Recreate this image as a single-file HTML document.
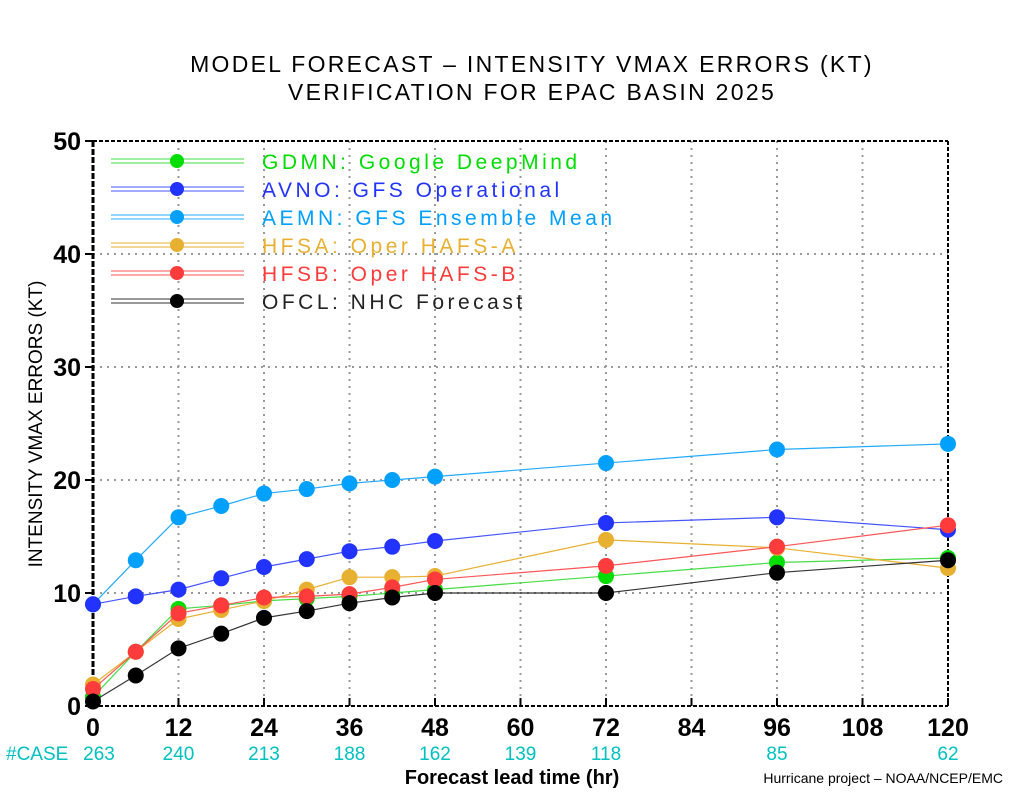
<!DOCTYPE html>
<html><head><meta charset="utf-8"><style>
html,body{margin:0;padding:0;background:#fff;}
svg{display:block;font-family:"Liberation Sans",sans-serif;}
</style></head><body>
<svg id="chart" width="1024" height="800" viewBox="0 0 1024 800">
<text x="532" y="72" text-anchor="middle" font-size="23" letter-spacing="2.3">MODEL FORECAST – INTENSITY VMAX ERRORS (KT)</text>
<text x="532" y="100" text-anchor="middle" font-size="23" letter-spacing="2.3">VERIFICATION FOR EPAC BASIN 2025</text>
<g id="grid"></g>
<g id="axes"></g>
<g id="series"></g>
<g id="legend"></g>
<text x="42" y="424" transform="rotate(-90 42 424)" text-anchor="middle" font-size="19">INTENSITY VMAX ERRORS (KT)</text>
<text x="512" y="784" text-anchor="middle" font-size="20" font-weight="bold" font-family="Liberation Sans Narrow, Liberation Sans, sans-serif">Forecast lead time (hr)</text>
<text x="1003" y="783" text-anchor="end" font-size="14" font-family="Liberation Sans Narrow, Liberation Sans, sans-serif">Hurricane project – NOAA/NCEP/EMC</text>
<text x="6" y="760" font-size="19" fill="#00c0c0" font-family="Liberation Sans Narrow, Liberation Sans, sans-serif">#CASE</text>
</svg>
<script>
const hours=[0,6,12,18,24,30,36,42,48,72,96,120];
const xTicks=[0,12,24,36,48,60,72,84,96,108,120];
const yTicks=[0,10,20,30,40,50];
const caseHours=[0,12,24,36,48,60,72,96,120];
const caseCounts=[263,240,213,188,162,139,118,85,62];
const gdmn=[0.8,4.8,8.6,8.9,9.3,9.5,9.7,10.0,10.3,11.5,12.7,13.1];
const avno=[9.0,9.7,10.3,11.3,12.3,13.0,13.7,14.1,14.6,16.2,16.7,15.6];
const aemn=[9.0,12.9,16.7,17.7,18.8,19.2,19.7,20.0,20.3,21.5,22.7,23.2];
const hfsa=[1.9,4.8,7.7,8.5,9.3,10.3,11.4,11.4,11.5,14.7,14.0,12.2];
const hfsb=[1.5,4.8,8.2,8.9,9.6,9.7,9.9,10.5,11.2,12.4,14.1,16.0];
const ofcl=[0.4,2.7,5.1,6.4,7.8,8.4,9.1,9.6,10.0,10.0,11.8,12.9];
const seriesNames=["GDMN: Google DeepMind","AVNO: GFS Operational","AEMN: GFS Ensemble Mean","HFSA: Oper HAFS-A","HFSB: Oper HAFS-B","OFCL: NHC Forecast"];
const seriesIds=["gdmn","avno","aemn","hfsa","hfsb","ofcl"];
(function(){
const NS="http://www.w3.org/2000/svg";
const X0=93,X1=948,Y0=706,Y1=141;
const xs=h=>X0+(X1-X0)*h/120;
const ys=v=>Y0-(Y0-Y1)*v/50;
function mk(tag,attrs,parent,text){const e=document.createElementNS(NS,tag);for(const k in attrs)e.setAttribute(k,attrs[k]);if(text!==undefined)e.textContent=text;parent.appendChild(e);return e;}
const grid=document.getElementById('grid'),axes=document.getElementById('axes'),ser=document.getElementById('series'),leg=document.getElementById('legend');
xTicks.forEach(t=>{if(t>0&&t<120){const l=mk('line',{x1:xs(t),x2:xs(t),y1:Y1,y2:Y0,stroke:'#999','stroke-width':2,'stroke-dasharray':'2,5'},grid);

}});
yTicks.forEach(t=>{if(t>0&&t<50){const l=mk('line',{x1:X0,x2:X1,y1:ys(t),y2:ys(t),stroke:'#999','stroke-width':2,'stroke-dasharray':'2,5'},grid);

}});
const bTop=mk('line',{x1:X0,x2:X1,y1:Y1,y2:Y1,stroke:'#000','stroke-width':2,'stroke-dasharray':'4,2'},axes);


const bRight=mk('line',{x1:X1,x2:X1,y1:Y1,y2:Y0,stroke:'#000','stroke-width':2,'stroke-dasharray':'4,2'},axes);


const bBot=mk('line',{x1:X0,x2:X1,y1:Y0,y2:Y0,stroke:'#000','stroke-width':2,'stroke-dasharray':'4,2'},axes);


const bLeft=mk('line',{x1:X0,x2:X0,y1:Y1,y2:Y0,stroke:'#000','stroke-width':3,'stroke-dasharray':'6,2'},axes);


xTicks.forEach(t=>{const l=mk('line',{x1:xs(t),x2:xs(t),y1:Y0,y2:Y0-8,stroke:'#000','stroke-width':2},axes);


const tx=mk('text',{x:xs(t),y:Y0+30,'text-anchor':'middle','font-size':25,'font-weight':'bold','font-family':'Liberation Sans Narrow, Liberation Sans, sans-serif'},axes,String(t));

});
yTicks.forEach(t=>{const l=mk('line',{x1:X0-8,x2:X0,y1:ys(t),y2:ys(t),stroke:'#000','stroke-width':2},axes);


const tx=mk('text',{x:X0-12,y:ys(t)+9,'text-anchor':'end','font-size':25,'font-weight':'bold','font-family':'Liberation Sans Narrow, Liberation Sans, sans-serif'},axes,String(t));

});
caseHours.forEach((h,i)=>{const tx=mk('text',{x:xs(h)+(i===0?6:0),y:760,'text-anchor':'middle','font-size':19,fill:'#00c0c0','font-family':'Liberation Sans Narrow, Liberation Sans, sans-serif'},axes,String(caseCounts[i]));

});
const data={gdmn,avno,aemn,hfsa,hfsb,ofcl};
const colors={gdmn:'#00dd00',avno:'#2233ff',aemn:'#00a0ff',hfsa:'#e8b030',hfsb:'#ff3b3b',ofcl:'#000'};
const lineColors={gdmn:'#44dd44',avno:'#4455ff',aemn:'#22aaff',hfsa:'#e8b030',hfsb:'#ff5555',ofcl:'#333'};
const order=["aemn","avno","gdmn","hfsa","hfsb","ofcl"];
order.forEach(id=>{const g=mk('g',{},ser);


const vals=data[id];
const pl=mk('polyline',{points:vals.map((v,i)=>xs(hours[i])+','+ys(v)).join(' '),fill:'none',stroke:lineColors[id],'stroke-width':1.2},g);


vals.forEach((v,i)=>{const c=mk('circle',{cx:xs(hours[i]),cy:ys(v),r:8,fill:colors[id]},g);

});});
seriesIds.forEach((id,i)=>{const y=161+28*i;const g=mk('g',{},leg);


mk('line',{x1:111,x2:244,y1:y-2,y2:y-2,stroke:lineColors[id],'stroke-width':1.2,opacity:0.8},g);
mk('line',{x1:111,x2:244,y1:y+2,y2:y+2,stroke:lineColors[id],'stroke-width':1.2,opacity:0.8},g);
mk('circle',{cx:177,cy:y,r:7,fill:colors[id]},g);
mk('text',{x:262,y:y+8,'font-size':21,fill:colors[id]==='#000'?'#222':colors[id],'letter-spacing':'3.5'},g,seriesNames[i]);});
})();
</script>
</body></html>
